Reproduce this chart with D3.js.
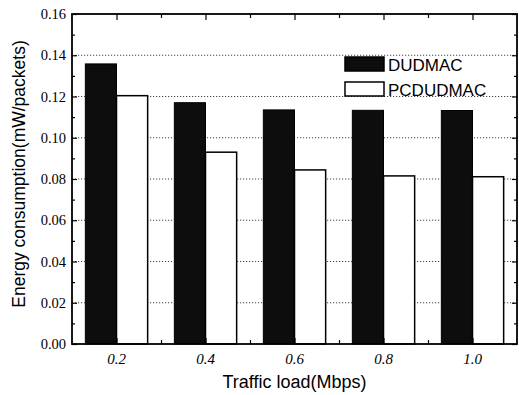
<!DOCTYPE html>
<html>
<head>
<meta charset="utf-8">
<script src="https://cdn.jsdelivr.net/npm/d3@7"></script>
<style>
  html, body { margin: 0; padding: 0; background: #fff; }
  svg { display: block; }
</style>
</head>
<body>
<div id="chart"></div>
<script>
// Traffic load categories (Mbps) and energy consumption per scheme
const loads = [0.2, 0.4, 0.6, 0.8, 1.0];
const dudmac = [0.1358, 0.117, 0.1135, 0.1133, 0.1132];
const pcdudmac = [0.1204, 0.093, 0.0844, 0.0815, 0.0811];
const seriesNames = ["DUDMAC", "PCDUDMAC"];
const yTicks = [0, 0.02, 0.04, 0.06, 0.08, 0.10, 0.12, 0.14, 0.16];

(function () {
  "use strict";

  const W = 519, H = 395;
  const SANS = "'Liberation Sans', Arial, sans-serif";
  const SERIF = "'Liberation Serif', 'Times New Roman', serif";
  const m = { left: 72, right: 2, top: 14, bottom: 51 };

  const svg = d3.select("#chart").append("svg").attr("width", W).attr("height", H);

  const x = d3.scaleLinear().domain([0.1, 1.1]).range([m.left, W - m.right]);
  const y = d3.scaleLinear().domain([0, 0.16]).range([H - m.bottom, m.top]);
  const bw = x(0.17) - x(0.1);   // one bar width, in data units of 0.07

  // dotted grid lines behind the bars
  svg.append("g").selectAll("line")
    .data(yTicks.filter(t => t > 0 && t < 0.16))
    .join("line")
    .attr("x1", x.range()[0]).attr("x2", x.range()[1])
    .attr("y1", d => y(d)).attr("y2", d => y(d))
    .attr("stroke", "#444").attr("stroke-width", 1)
    .attr("stroke-dasharray", "1.2,1.8");

  // bars
  const bars = svg.append("g");
  bars.selectAll("rect.dud").data(loads).join("rect")
    .attr("class", "dud")
    .attr("x", d => x(d) - bw).attr("width", bw)
    .attr("y", (d, i) => y(dudmac[i])).attr("height", (d, i) => y(0) - y(dudmac[i]))
    .attr("fill", "#0d0d0d").attr("stroke", "#000").attr("stroke-width", 1);
  bars.selectAll("rect.pc").data(loads).join("rect")
    .attr("class", "pc")
    .attr("x", d => x(d)).attr("width", bw)
    .attr("y", (d, i) => y(pcdudmac[i])).attr("height", (d, i) => y(0) - y(pcdudmac[i]))
    .attr("fill", "#fff").attr("stroke", "#000").attr("stroke-width", 1.5);

  // axes with inward ticks
  const axStyle = g => {
    g.select(".domain").remove();
    g.selectAll("line").attr("stroke", "#000").attr("stroke-width", 1.2);
  };
  const yMinor = d3.range(0.01, 0.16, 0.02);

  svg.append("g").attr("transform", `translate(${m.left},0)`)
    .call(d3.axisRight(y).tickValues(yTicks).tickSize(5).tickFormat(""))
    .call(axStyle);
  svg.append("g").attr("transform", `translate(${m.left},0)`)
    .call(d3.axisRight(y).tickValues(yMinor).tickSize(3).tickFormat(""))
    .call(axStyle);
  svg.append("g").attr("transform", `translate(${W - m.right},0)`)
    .call(d3.axisLeft(y).tickValues(yTicks).tickSize(5).tickFormat(""))
    .call(axStyle);
  svg.append("g").attr("transform", `translate(${W - m.right},0)`)
    .call(d3.axisLeft(y).tickValues(yMinor).tickSize(3).tickFormat(""))
    .call(axStyle);

  const xMinor = [0.3, 0.5, 0.7, 0.9];
  svg.append("g").attr("transform", `translate(0,${m.top})`)
    .call(d3.axisBottom(x).tickValues(loads).tickSize(6).tickFormat(""))
    .call(axStyle);
  svg.append("g").attr("transform", `translate(0,${m.top})`)
    .call(d3.axisBottom(x).tickValues(xMinor).tickSize(4).tickFormat(""))
    .call(axStyle);
  svg.append("g").attr("transform", `translate(0,${H - m.bottom})`)
    .call(d3.axisTop(x).tickValues(loads).tickSize(6).tickFormat(""))
    .call(axStyle);
  svg.append("g").attr("transform", `translate(0,${H - m.bottom})`)
    .call(d3.axisTop(x).tickValues(xMinor).tickSize(4).tickFormat(""))
    .call(axStyle);

  // frame
  svg.append("rect")
    .attr("x", m.left).attr("y", m.top)
    .attr("width", W - m.right - m.left).attr("height", H - m.bottom - m.top)
    .attr("fill", "none").attr("stroke", "#000").attr("stroke-width", 1.8);

  // tick labels
  svg.append("g").selectAll("text").data(yTicks).join("text")
    .attr("x", m.left - 6).attr("y", d => y(d) + 5)
    .attr("text-anchor", "end").attr("font-family", SERIF).attr("font-size", "14.5px")
    .text(d => d3.format(".2f")(d));
  svg.append("g").selectAll("text").data(loads).join("text")
    .attr("x", d => x(d)).attr("y", H - m.bottom + 20)
    .attr("text-anchor", "middle").attr("font-family", SERIF).attr("font-style", "italic")
    .attr("font-size", "15px")
    .text(d => d3.format(".1f")(d));

  // axis titles
  svg.append("text")
    .attr("x", (x.range()[0] + x.range()[1]) / 2).attr("y", H - 7)
    .attr("text-anchor", "middle").attr("font-family", SANS).attr("font-size", "18px")
    .text("Traffic load(Mbps)");
  svg.append("text")
    .attr("transform", `translate(25,${(y.range()[0] + y.range()[1]) / 2 - 5}) rotate(-90)`)
    .attr("text-anchor", "middle").attr("font-family", SANS).attr("font-size", "17.5px")
    .text("Energy consumption(mW/packets)");

  // legend
  const lg = svg.append("g").attr("transform", "translate(345,57)");
  const fills = ["#0d0d0d", "#fff"];
  seriesNames.forEach((name, i) => {
    lg.append("rect").attr("x", 0).attr("y", i * 25).attr("width", 39).attr("height", 14)
      .attr("fill", fills[i]).attr("stroke", "#000").attr("stroke-width", 1.5);
    lg.append("text").attr("x", 43).attr("y", i * 25 + 14)
      .attr("font-family", SANS).attr("font-size", "17px").text(name);
  });
})();
</script>
</body>
</html>
